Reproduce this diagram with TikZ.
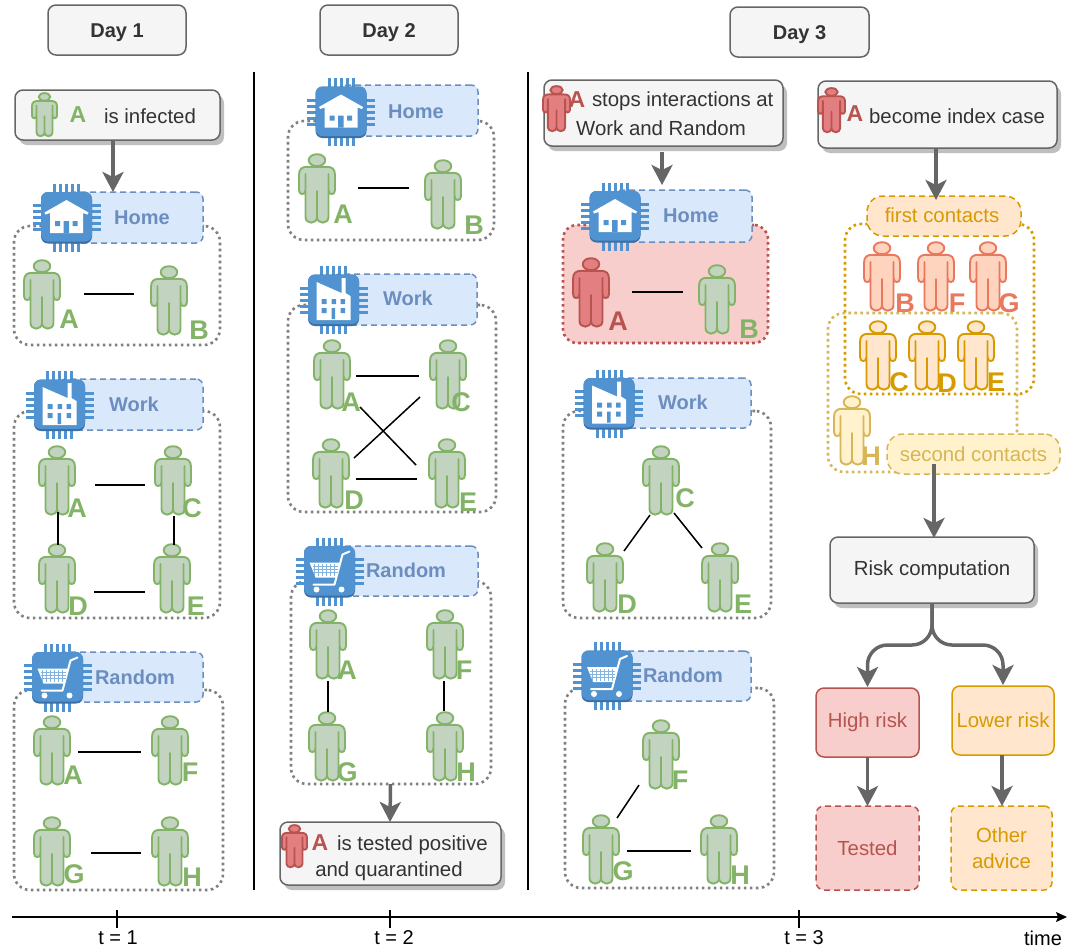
\documentclass[tikz,border=0pt]{standalone}
\usepackage{fontspec}
\setmainfont{Liberation Sans}
\usetikzlibrary{arrows.meta,shadows,calc}
\definecolor{boxf}{HTML}{F5F5F5}
\definecolor{boxd}{HTML}{666666}
\definecolor{txtc}{HTML}{333333}
\definecolor{labf}{HTML}{DAE8FC}
\definecolor{labd}{HTML}{6C8EBF}
\definecolor{chipc}{HTML}{5093D0}
\definecolor{chipd}{HTML}{3B6FA5}
\definecolor{dots}{HTML}{808080}
\definecolor{grnf}{HTML}{C2D4C0}
\definecolor{grnd}{HTML}{82B366}
\definecolor{redf}{HTML}{E37F80}
\definecolor{redd}{HTML}{B85450}
\definecolor{pinkf}{HTML}{F8CECC}
\definecolor{salf}{HTML}{FFD4BE}
\definecolor{sald}{HTML}{E8795F}
\definecolor{orgf}{HTML}{FFE6CC}
\definecolor{orgd}{HTML}{D79B00}
\definecolor{yelf}{HTML}{FFF2CC}
\definecolor{yeld}{HTML}{D6B656}
\newcommand\bodyfont{\fontsize{20.4}{24}\selectfont}
\tikzset{
  base/.style={inner sep=0,outer sep=0},
  graybox/.style={base,draw=boxd,fill=boxf,line width=1.5pt,rounded corners=8pt,text=txtc,align=center},
  shadowbox/.style={graybox,general shadow={fill=black!25,shadow xshift=4pt,shadow yshift=-5pt}},
  daybox/.style={graybox,font=\fontsize{20}{24}\selectfont\bfseries,text height=14.5pt,text depth=0pt},
  dotbox/.style={base,draw=dots,line width=2.6pt,dash pattern=on 2.6pt off 3.4pt,rounded corners=16pt},
  labelbox/.style={base,draw=labd,fill=labf,line width=1.5pt,dash pattern=on 6pt off 4pt,rounded corners=7pt},
  pill/.style={base,line width=1.5pt,dash pattern=on 6pt off 4pt,rounded corners=16pt},
  riskbox/.style={base,line width=1.5pt,rounded corners=8pt,align=center},
  word/.style={base,font=\bodyfont,text=txtc},
  labtext/.style={base,font=\fontsize{20}{24}\selectfont\bfseries,text=labd},
  lnk/.style={black,line width=1.5pt},
  arrow/.style={draw=boxd,line width=3.5pt,-{Stealth[length=20pt,width=21pt,inset=5pt]}},
  axisline/.style={black,line width=1.2pt},
  ticklabel/.style={base,font=\fontsize{20}{24}\selectfont},
}
% rectangle node from corner coordinates
\newcommand\bx[7][]{\node[#2,minimum width={(#5-#3)*1pt},minimum height={(#6-#4)*1pt},#1] (#7) at ({(#3+#5)/2},{(#4+#6)/2})}
% person figure
\newcommand\figpath{
  (0,21) .. controls (0,15) and (3,12.8) .. (8,12.8) -- (28,12.8)
  .. controls (33,12.8) and (36,15) .. (36,21) -- (36,36)
  .. controls (36,41.5) and (29.5,41.5) .. (29.5,36) -- (29.5,20) -- (29.5,63)
  .. controls (29.5,70.5) and (18,70.5) .. (18,63) -- (18,37) -- (18,63)
  .. controls (18,70.5) and (6.5,70.5) .. (6.5,63) -- (6.5,20) -- (6.5,36)
  .. controls (6.5,41.5) and (0,41.5) .. (0,36) -- cycle}
\newcommand\personsh[7]{% name x y w h fill draw
  \node[base,anchor=north west,minimum width=#4 pt,minimum height=#5 pt] (#1) at (#2,#3) {};
  \begin{scope}[shift={(#2,#3)},xscale=#4/36,yscale=#5/70,line join=round]
    \draw[fill=#6,draw=#7,line width=1.9pt] \figpath;
    \draw[fill=#6,draw=#7,line width=1.9pt] (18,6.2) ellipse [x radius=8.3,y radius=6];
  \end{scope}}
\newcommand\person[8]{% name x y fill draw letter lx ly
  \personsh{#1}{#2}{#3}{36}{70}{#4}{#5}
  \node[base,text=#5,font=\fontsize{27}{30}\selectfont\bfseries] (#1-l) at (#7,#8) {#6};}
\newcommand\chip[4]{% name x y icon
  \node[base,minimum width=50pt,minimum height=50pt] (#1) at (#2,#3) {};
  \begin{scope}[shift={(#2,#3)}]
    \foreach \q in {-12,-6,0,6,12}{
      \fill[chipc] (\q-1.5,-34) rectangle (\q+1.5,34);
      \fill[chipc] (-34,\q-1.5) rectangle (34,\q+1.5);
    }
    \fill[chipd,rounded corners=7pt] (-25.5,-25.5) rectangle (25.5,26);
    \fill[chipc,rounded corners=7pt] (-25.5,-25.5) rectangle (25.5,24);
    #4
  \end{scope}}
\newcommand\houseicon{
  \fill[white] (0,-17.5) -- (22,-5) -- (21,-3) -- (16.5,-4.5) -- (16.5,15.5) -- (-16.5,15.5) -- (-16.5,-4.5) -- (-21,-3) -- (-22,-5) -- cycle;
  \fill[chipc] (-11.5,3.5) rectangle (-6.5,8.5) (-3,3.5) rectangle (2.5,15.5) (6,3.5) rectangle (11,8.5);}
\newcommand\facticon{
  \fill[white] (-17,-18) -- (8,-7) -- (8,-22) -- (12,-22) -- (12,-7) -- (17,-4) -- (17,20) -- (-17,20) -- cycle;
  \fill[chipc] (-12,-1) rectangle (-7,4) (-2,-1) rectangle (2.5,4) (7,-1) rectangle (11.5,4)
    (-12,8) rectangle (-7,13) (7,8) rectangle (11.5,13) (-2,8) rectangle (1.5,19);}
\newcommand\carticon{
  \draw[white,line width=2pt,line cap=round,line join=round] (20,-20) -- (13,-17) -- (5,13) -- (-16,13);
  \fill[white] (-20,-9) -- (11,-9) -- (6,6) -- (-14,6) -- cycle;
  \foreach \q in {-15,-11,-7,-3,1,5}{\draw[chipc!70,line width=.9pt] (\q,-7.5) -- (\q,4.5);}
  \foreach \q in {-5,-2,1}{\draw[chipc!70,line width=.9pt] (-17,\q) -- (8,\q);}
  \fill[white] (-13,18) circle (3) (12,18) circle (3);}
\begin{document}
\begin{tikzpicture}[x=1pt,y=-1pt]
\useasboundingbox (0,0) rectangle (1070,948);
\fill[white] (0,0) rectangle (1070,948);

% headers
\bx{daybox}{48}{5}{186}{55}{day1} {Day 1};
\bx{daybox}{320}{5}{458}{55}{day2} {Day 2};
\bx{daybox}{730}{7}{869}{57}{day3} {Day 3};

% separators
\coordinate (s1a) at (254,72); \coordinate (s1b) at (254,890);
\coordinate (s2a) at (528,72); \coordinate (s2b) at (528,890);
\draw[black,line width=1.5pt] (s1a) -- (s1b);
\draw[black,line width=1.5pt] (s2a) -- (s2b);

% ---------- DAY 1 ----------
\bx{shadowbox}{15}{90}{220}{140}{inf} {};
\personsh{infP}{32}{93}{25}{44}{grnf}{grnd}
\node[base,text=grnd,font=\fontsize{23}{26}\selectfont\bfseries] (infA) at (78,115) {A};
\node[word] (infT) at (150,116) {is infected};

\bx{dotbox}{14}{226}{220}{345}{d1h} {};
\bx{labelbox}{66}{192}{203}{243}{d1hL} {};
\chip{d1hC}{66.5}{217.5}{\houseicon}
\node[labtext] (d1hT) at (142,218) {Home};
\person{d1hA}{24}{260}{grnf}{grnd}{A}{69}{319}
\person{d1hB}{151}{266}{grnf}{grnd}{B}{199}{330}
\draw[lnk] ([shift={(42,-1)}]d1hA.center) -- ([shift={(-35,-7)}]d1hB.center);

\bx{dotbox}{14}{411}{220}{618}{d1w} {};
\bx{labelbox}{59}{379}{203}{430}{d1wL} {};
\chip{d1wC}{59.5}{405}{\facticon}
\node[labtext] (d1wT) at (134,404) {Work};
\person{d1wA}{39}{446}{grnf}{grnd}{A}{77}{508}
\person{d1wC2}{155}{446}{grnf}{grnd}{C}{192}{508}
\person{d1wD}{39}{544}{grnf}{grnd}{D}{78}{606}
\person{d1wE}{154}{544}{grnf}{grnd}{E}{196}{606}
\draw[lnk] ([shift={(38,4)}]d1wA.center) -- ([shift={(-28,4)}]d1wC2.center);
\draw[lnk] ([shift={(1,31)}]d1wA.center) -- ([shift={(1,-34)}]d1wD.center);
\draw[lnk] ([shift={(1,35)}]d1wC2.center) -- ([shift={(2,-34)}]d1wE.center);
\draw[lnk] ([shift={(37,13)}]d1wD.center) -- ([shift={(-27,13)}]d1wE.center);

\bx{dotbox}{14}{690}{223}{890}{d1r} {};
\bx{labelbox}{57}{652}{203}{702}{d1rL} {};
\chip{d1rC}{57.5}{677.5}{\carticon}
\node[labtext] (d1rT) at (135,677) {Random};
\person{d1rA}{34}{716}{grnf}{grnd}{A}{73}{775}
\person{d1rF}{152}{716}{grnf}{grnd}{F}{190}{772}
\person{d1rG}{34}{817}{grnf}{grnd}{G}{74}{874}
\person{d1rH}{152}{817}{grnf}{grnd}{H}{192}{877}
\draw[lnk] ([shift={(26,1)}]d1rA.center) -- ([shift={(-29,1)}]d1rF.center);
\draw[lnk] ([shift={(39,1)}]d1rG.center) -- ([shift={(-29,1)}]d1rH.center);

\draw[arrow] ([xshift=-4.5pt]inf.south) -- ([xshift=-21.5pt]d1hL.north);

% ---------- DAY 2 ----------
\bx{dotbox}{288}{121}{494}{240}{d2h} {};
\bx{labelbox}{341}{85}{478}{136}{d2hL} {};
\chip{d2hC}{341}{112}{\houseicon}
\node[labtext] (d2hT) at (416,112) {Home};
\person{d2hA}{299}{154}{grnf}{grnd}{A}{343}{214}
\person{d2hB}{425}{160}{grnf}{grnd}{B}{474}{225}
\draw[lnk] ([shift={(41,-1)}]d2hA.center) -- ([shift={(-34,-7)}]d2hB.center);

\bx{dotbox}{288}{305}{496}{512}{d2w} {};
\bx{labelbox}{333}{274}{477}{325}{d2wL} {};
\chip{d2wC}{333.5}{300}{\facticon}
\node[labtext] (d2wT) at (408,298) {Work};
\person{d2wA}{314}{340}{grnf}{grnd}{A}{351}{402}
\person{d2wC2}{430}{340}{grnf}{grnd}{C}{461}{402}
\person{d2wD}{313}{439}{grnf}{grnd}{D}{354}{500}
\person{d2wE}{429}{439}{grnf}{grnd}{E}{468}{502}
\draw[lnk] ([shift={(24,1)}]d2wA.center) -- ([shift={(-29,1)}]d2wC2.center);
\draw[lnk] ([shift={(28,32)}]d2wA.center) -- ([shift={(-31,-9)}]d2wE.center);
\draw[lnk] ([shift={(23,-16)}]d2wD.center) -- ([shift={(-28,22)}]d2wC2.center);
\draw[lnk] ([shift={(25,5)}]d2wD.center) -- ([shift={(-30,5)}]d2wE.center);

\bx{dotbox}{291}{581}{491}{784}{d2r} {};
\bx{labelbox}{329}{546}{478}{596}{d2rL} {};
\chip{d2rC}{329.5}{571.5}{\carticon}
\node[labtext] (d2rT) at (406,570) {Random};
\person{d2rA}{310}{610}{grnf}{grnd}{A}{347}{670}
\person{d2rF}{427}{610}{grnf}{grnd}{F}{464}{670}
\person{d2rG}{309}{712}{grnf}{grnd}{G}{347}{772}
\person{d2rH}{427}{712}{grnf}{grnd}{H}{466}{772}
\draw[lnk] ([shift={(0,36)}]d2rA.center) -- ([shift={(1,-35)}]d2rG.center);
\draw[lnk] ([shift={(-1,36)}]d2rF.center) -- ([shift={(-1,-36)}]d2rH.center);

\bx{shadowbox}{280}{822}{501}{885}{pos} {};
\personsh{posP}{282}{825}{25}{43}{redf}{redd}
\node[base,text=redd,font=\fontsize{23}{26}\selectfont\bfseries] (posA) at (320,843) {A};
\node[word,anchor=west] (posT1) at (337,845.5) {is tested positive};
\node[word] (posT2) at (389,871) {and quarantined};
\draw[arrow] ([xshift=-0.5pt]d2r.south) -- ([xshift=-0.5pt]pos.north);

% ---------- DAY 3 left ----------
\bx{shadowbox}{544}{80}{783}{146}{stop} {};
\personsh{stopP}{543}{86}{27}{46}{redf}{redd}
\node[base,text=redd,font=\fontsize{23}{26}\selectfont\bfseries] (stopA) at (577,100) {A};
\node[word,anchor=west] (stopT1) at (592,101) {stops interactions at};
\node[word] (stopT2) at (661,128) {Work and Random};

\bx{base,draw=redd,fill=pinkf,line width=2.6pt,dash pattern=on 2.6pt off 3.4pt,rounded corners=14pt}{563}{225}{768}{343}{d3h} {};
\bx{labelbox}{615}{190}{752}{242}{d3hL} {};
\chip{d3hC}{615}{216.5}{\houseicon}
\node[labtext] (d3hT) at (691,216) {Home};
\person{d3hA}{573}{258}{redf}{redd}{A}{618}{321}
\person{d3hB}{699}{265}{grnf}{grnd}{B}{749}{329}
\draw[lnk] ([shift={(41,-1)}]d3hA.center) -- ([shift={(-34,-8)}]d3hB.center);
\draw[arrow] ([xshift=-1.5pt,yshift=-6pt]stop.south) -- ([xshift=-21.5pt,yshift=5pt]d3hL.north);

\bx{dotbox}{563}{411}{771}{618}{d3w} {};
\bx{labelbox}{609}{378}{751}{428}{d3wL} {};
\chip{d3wC}{609}{403.5}{\facticon}
\node[labtext] (d3wT) at (683,402) {Work};
\person{d3wC2}{643}{446}{grnf}{grnd}{C}{685}{498}
\person{d3wD}{587}{543}{grnf}{grnd}{D}{627}{604}
\person{d3wE}{702}{543}{grnf}{grnd}{E}{743}{604}
\draw[lnk] ([shift={(-11,34)}]d3wC2.center) -- ([shift={(19,-27)}]d3wD.center);
\draw[lnk] ([shift={(13,32)}]d3wC2.center) -- ([shift={(-18,-30)}]d3wE.center);

\bx{dotbox}{565}{688}{774}{888}{d3r} {};
\bx{labelbox}{607}{651}{751}{701}{d3rL} {};
\chip{d3rC}{607}{676}{\carticon}
\node[labtext] (d3rT) at (683,675) {Random};
\person{d3rF}{643}{720}{grnf}{grnd}{F}{680}{780}
\person{d3rG}{583}{815}{grnf}{grnd}{G}{623}{871}
\person{d3rH}{701}{815}{grnf}{grnd}{H}{740}{875}
\draw[lnk] ([shift={(-22,30)}]d3rF.center) -- ([shift={(16,-32)}]d3rG.center);
\draw[lnk] ([shift={(26,1)}]d3rG.center) -- ([shift={(-28,1)}]d3rH.center);

% ---------- DAY 3 right ----------
\bx{shadowbox}{818}{81}{1057}{148}{idx} {};
\personsh{idxP}{818}{88}{27}{45}{redf}{redd}
\node[base,text=redd,font=\fontsize{23}{26}\selectfont\bfseries] (idxA) at (855,114) {A};
\node[word] (idxT) at (957,116) {become index case};

\bx{dotbox,draw=orgd}{845}{224}{1034}{394}{fc} {};
\bx{pill,draw=orgd,fill=orgf,text=orgd,font=\bodyfont}{867}{196}{1021}{236}{fcL} {\hspace*{-4pt}\raisebox{1.5pt}{first contacts}};
\person{fB}{864}{242}{salf}{sald}{B}{905}{303}
\person{fF}{918}{242}{salf}{sald}{F}{957}{303}
\person{fG}{970}{242}{salf}{sald}{G}{1009}{303}

\bx{dotbox,draw=yeld}{828}{313}{1017}{472}{sc} {};
\person{sC}{860}{321}{orgf}{orgd}{C}{899}{382}
\person{sD}{909}{321}{orgf}{orgd}{D}{947}{383}
\person{sE}{958}{321}{orgf}{orgd}{E}{996}{382}
\person{sH}{834}{396}{yelf}{yeld}{H}{871}{456}
\bx{pill,draw=yeld,fill=yelf,text=yeld,font=\bodyfont}{887}{434}{1060}{474}{scL} {second contacts};

\draw[arrow] ([xshift=-1.5pt]idx.south) -- ([xshift=-8pt,yshift=-4pt]fcL.north);
\bx{graybox,general shadow={fill=black!25,shadow xshift=4pt,shadow yshift=-5pt},font=\bodyfont}{830}{537}{1034}{603}{risk} {\raisebox{-1pt}{Risk computation}};
\draw[arrow] ([xshift=2pt,yshift=10pt]scL.south -| risk.north) -- ([xshift=2pt,yshift=-1pt]risk.north);

\bx{riskbox,draw=redd,fill=pinkf,text=redd,font=\bodyfont}{816}{688}{919}{757}{high} {High risk};
\bx{riskbox,draw=orgd,fill=orgf,text=orgd,font=\bodyfont}{952}{686}{1054}{755}{low} {Lower risk};
\bx{riskbox,draw=redd,fill=pinkf,text=redd,dash pattern=on 6pt off 4pt,font=\bodyfont}{816}{806}{919}{890}{test} {Tested};
\bx{riskbox,draw=orgd,fill=orgf,text=orgd,dash pattern=on 6pt off 4pt,font=\fontsize{20.4}{26}\selectfont}{951}{806}{1052}{890}{adv} {Other\\advice};
\draw[arrow,rounded corners=20pt,shorten >=1pt] (risk.south) -- ($(risk.south)+(0,42)$) -- ($(high.north)+(0,-43)$) -- (high.north);
\draw[arrow,rounded corners=20pt,shorten >=1pt] (risk.south) -- ($(risk.south)+(0,42)$) -- ($(low.north)+(0,-41)$) -- (low.north);
\draw[arrow] (high.south) -- (test.north);
\draw[arrow] ([xshift=-1pt]low.south) -- ([xshift=0.5pt]adv.north);

% ---------- time axis ----------
\coordinate (ax0) at (12,917); \coordinate (ax1) at (1067,917);
\draw[axisline,-{Stealth[length=11pt,width=10pt,inset=2pt]}] (ax0) -- (ax1);
\node[ticklabel] (t1) at (118,938) {t = 1};
\node[ticklabel] (t2) at (394,938) {t = 2};
\node[ticklabel] (t3) at (804,938) {t = 3};
\node[ticklabel] (tt) at (1043,938) {time};
\coordinate (k1) at (117,910); \coordinate (k2) at (390,910); \coordinate (k3) at (799,910);
\draw[axisline] (k1) -- ++(0,18);
\draw[axisline] (k2) -- ++(0,18);
\draw[axisline] (k3) -- ++(0,18);
\end{tikzpicture}
\end{document}
